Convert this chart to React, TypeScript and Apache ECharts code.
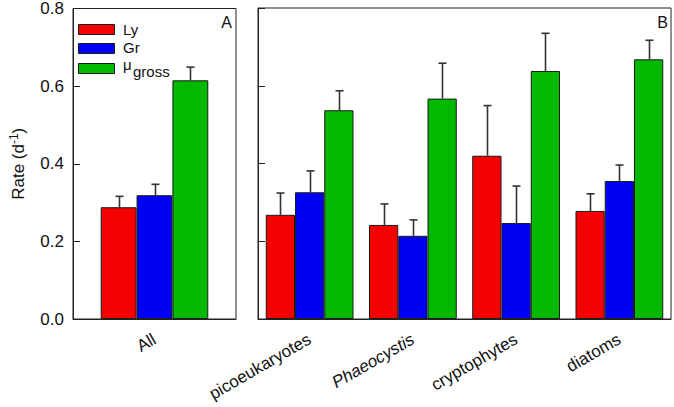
import React, { useEffect, useRef } from "react";
import * as echarts from "echarts";

const categoriesA = ["All"];
const categoriesB = ["picoeukaryotes", "Phaeocystis", "cryptophytes", "diatoms"];
const yTicks = [0, 0.2, 0.4, 0.6, 0.8];

// Panel A (All)
const lyA = [0.288];
const lyErrA = [0.028];
const grA = [0.319];
const grErrA = [0.028];
const muA = [0.615];
const muErrA = [0.034];

// Panel B (groups)
const lyB = [0.268, 0.242, 0.42, 0.278];
const lyErrB = [0.056, 0.054, 0.129, 0.044];
const grB = [0.326, 0.214, 0.247, 0.355];
const grErrB = [0.055, 0.041, 0.095, 0.041];
const muB = [0.537, 0.567, 0.638, 0.668];
const muErrB = [0.05, 0.091, 0.097, 0.049];

const seriesNames = ["Ly", "Gr", "μgross"];
const colors = ["#f40000", "#0000f4", "#00b900"];

const FONT = "Liberation Sans, Arial, sans-serif";

export default function App() {
  const ref = useRef<HTMLDivElement>(null);
  useEffect(() => {
    if (!ref.current) return;
    const chart = echarts.init(ref.current, undefined, { renderer: "svg" });

    const gapA = 0.34;
    const gapB = 0.15;

    const barSeries = (name: string, data: number[], color: string, idx: number, gap: number) => ({
      type: "bar",
      name,
      data,
      xAxisIndex: idx,
      yAxisIndex: idx,
      barGap: "0%",
      barCategoryGap: (gap * 100).toFixed(0) + "%",
      itemStyle: { color, borderColor: "#1a1a1a", borderWidth: 1 },
      z: 2,
    });

    const errSeries = (vals: number[], errs: number[], s: number, idx: number, gap: number) => ({
      type: "custom",
      xAxisIndex: idx,
      yAxisIndex: idx,
      z: 1,
      data: vals.map((v, i) => [i, v, errs[i]]),
      renderItem: (params: any, api: any) => {
        const ci = api.value(0);
        const v = api.value(1);
        const e = api.value(2);
        const band = api.size([1, 0])[0];
        const bw = (band * (1 - gap)) / 3;
        const base = api.coord([ci, v]);
        const top = api.coord([ci, v + e]);
        const x = Math.round(base[0] + (s - 1) * bw) + 0.5;
        const st = { stroke: "#333", lineWidth: 1.6 };
        return {
          type: "group",
          children: [
            { type: "line", shape: { x1: x, y1: base[1], x2: x, y2: top[1] }, style: st },
            { type: "line", shape: { x1: x - 4, y1: top[1], x2: x + 4, y2: top[1] }, style: st },
          ],
        };
      },
    });

    const xAxisCommon = {
      type: "category",
      axisLine: { lineStyle: { color: "#222", width: 1 } },
      axisTick: { alignWithLabel: true, length: 6, lineStyle: { color: "#222" } },
      axisLabel: {
        rotate: 30,
        fontSize: 17,
        fontFamily: FONT,
        color: "#111",
        margin: 19,
        interval: 0,
        formatter: (v: string) => (v === "Phaeocystis" ? "{i|" + v + "}" : v),
        rich: { i: { fontStyle: "italic", fontSize: 17, fontFamily: FONT, color: "#111" } },
      },
    };

    const yAxisCommon = {
      type: "value",
      min: 0,
      max: 0.8,
      interval: 0.2,
      splitLine: { show: false },
      axisLine: { show: true, lineStyle: { color: "#222" } },
      axisTick: { show: true, inside: true, length: 7, lineStyle: { color: "#222" } },
    };

    const txt = (text: string, x: number, y: number, size: number, extra: any = {}) => ({
      type: "text",
      x,
      y,
      style: { text, fontSize: size, fontFamily: FONT, fill: "#111", verticalAlign: "middle", ...extra },
    });

    const legendItems: any[] = [];
    const legendY = [24, 43, 63];
    seriesNames.forEach((n, i) => {
      legendItems.push({
        type: "rect",
        shape: { x: 78.5, y: legendY[i] + 0.5, width: 36, height: 10 },
        style: { fill: colors[i], stroke: "#1a1a1a", lineWidth: 1 },
      });
    });
    legendItems.push(txt("Ly", 123, 29.5, 15));
    legendItems.push(txt("Gr", 123, 47.5, 15));
    legendItems.push(txt("μ", 123, 64, 15));
    legendItems.push(txt("gross", 133, 71.5, 15));
    legendItems.push(txt("A", 232, 22, 16, { align: "right" }));
    legendItems.push(txt("B", 668, 22, 16, { align: "right" }));

    chart.setOption({
      animation: false,
      backgroundColor: "#fff",
      grid: [
        { left: 73, width: 163, top: 8, height: 311, show: true, borderColor: "#222", borderWidth: 1, backgroundColor: "transparent" },
        { left: 258, width: 413, top: 8, height: 311, show: true, borderColor: "#222", borderWidth: 1, backgroundColor: "transparent" },
      ],
      xAxis: [
        { ...xAxisCommon, gridIndex: 0, data: categoriesA },
        { ...xAxisCommon, gridIndex: 1, data: categoriesB },
      ],
      yAxis: [
        {
          ...yAxisCommon,
          gridIndex: 0,
          axisLabel: {
            fontSize: 17,
            fontFamily: FONT,
            color: "#111",
            margin: 9,
            formatter: (v: number) => v.toFixed(1),
            customValues: yTicks,
          },
          name: "Rate (d{sup|-1})",
          nameLocation: "middle",
          nameRotate: 90,
          nameGap: 44,
          nameTextStyle: {
            fontSize: 17,
            fontFamily: FONT,
            color: "#111",
            rich: { sup: { fontSize: 12, fontFamily: FONT, color: "#111", padding: [0, 0, 9, 0] } },
          },
        },
        { ...yAxisCommon, gridIndex: 1, axisLabel: { show: false } },
      ],
      series: [
        barSeries(seriesNames[0], lyA, colors[0], 0, gapA),
        barSeries(seriesNames[1], grA, colors[1], 0, gapA),
        barSeries(seriesNames[2], muA, colors[2], 0, gapA),
        barSeries(seriesNames[0], lyB, colors[0], 1, gapB),
        barSeries(seriesNames[1], grB, colors[1], 1, gapB),
        barSeries(seriesNames[2], muB, colors[2], 1, gapB),
        errSeries(lyA, lyErrA, 0, 0, gapA),
        errSeries(grA, grErrA, 1, 0, gapA),
        errSeries(muA, muErrA, 2, 0, gapA),
        errSeries(lyB, lyErrB, 0, 1, gapB),
        errSeries(grB, grErrB, 1, 1, gapB),
        errSeries(muB, muErrB, 2, 1, gapB),
      ],
      graphic: legendItems,
    });
    return () => chart.dispose();
  }, []);
  return (
    <div
      ref={ref}
      style={{ position: "fixed", left: 0, top: 0, width: 674, height: 407 }}
    />
  );
}
